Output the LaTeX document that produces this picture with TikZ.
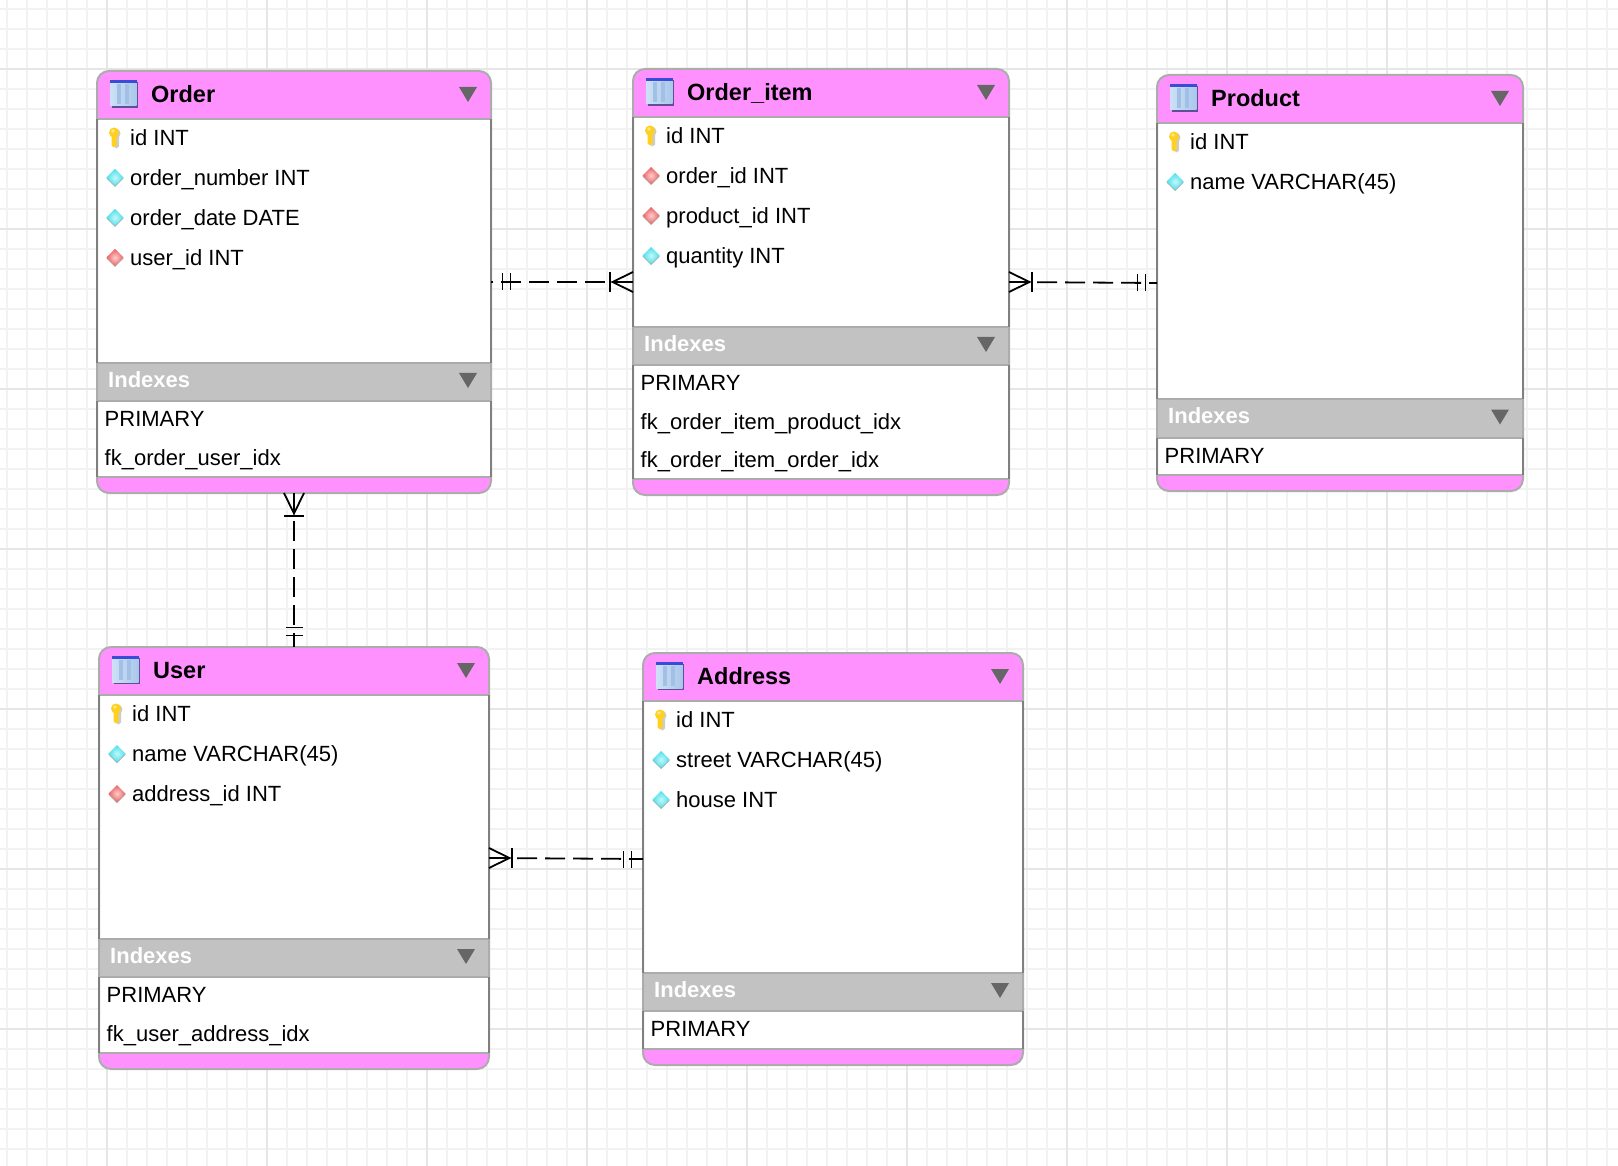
\documentclass[tikz,border=0pt]{standalone}
\usepackage{xcolor}
\usepackage{fontspec}
\setmainfont{Liberation Sans}
\usetikzlibrary{positioning, calc}
\definecolor{gridminor}{RGB}{242, 242, 242}
\definecolor{gridmajor}{RGB}{230, 230, 230}
\definecolor{headpink}{RGB}{255, 145, 255}
\definecolor{indexgray}{RGB}{194, 194, 194}
\definecolor{edgegray}{RGB}{172, 172, 172}
\definecolor{sidegray}{RGB}{128, 128, 128}
\definecolor{trianglegray}{RGB}{102, 102, 102}
\definecolor{attrcyan}{RGB}{70, 225, 235}
\definecolor{fkred}{RGB}{238, 95, 95}
\definecolor{keygold}{RGB}{255, 208, 30}
\definecolor{iconblue}{RGB}{58, 75, 216}
\definecolor{iconshadow}{RGB}{96, 78, 150}
\definecolor{iconlight}{RGB}{205, 224, 245}
\definecolor{iconbody}{RGB}{170, 200, 235}
\definecolor{iconstripe}{RGB}{162, 192, 230}
\tikzset{
    tablehead/.style={fill=headpink},
    tablerule/.style={draw=edgegray, line width=2pt},
    tableside/.style={draw=sidegray, line width=2pt},
    tableedge/.style={draw=edgegray, line width=2pt, rounded corners=12pt, inner sep=0pt, outer sep=0pt},
    titletext/.style={anchor=base west, inner sep=0pt, font=\fontsize{23.5}{28}\selectfont\bfseries},
    fieldtext/.style={anchor=base west, inner sep=0pt, font=\fontsize{22}{26}\selectfont},
    indextext/.style={anchor=base west, inner sep=0pt, text=white, font=\fontsize{22}{26}\selectfont\bfseries},
    relline/.style={line width=1.8pt, black, dash pattern=on 20pt off 8pt},
    markline/.style={line width=1.8pt, black, solid},
    manymark/.pic={
        \draw[markline] (0,-10) -- (20.5,0) -- (0,10);
        \draw[markline] (23,-10) -- (23,10);
    },
    onemark/.pic={
        \draw[markline] (11.5,-8.5) -- (11.5,8.5);
        \draw[markline] (19.5,-8.5) -- (19.5,8.5);
    }
}
% Row icons, drawn around the current origin
\newcommand{\iconkey}{
    \fill[black!20] (0.5,-4) circle (5);
    \fill[black!20] (-1,-4) -- (4,-4) -- (4,9) -- (1.5,11) -- (-1,9) -- cycle;
    \fill[keygold] (-1,-5) circle (5);
    \fill[keygold] (-3.5,-5) -- (1.5,-5) -- (1.5,8) -- (-1,10) -- (-3.5,8) -- cycle;
    \fill[white, opacity=0.5] (-2,-6.5) circle (1.8);
}
\newcommand{\icondiamond}[1]{
    \fill[black!35] (0,-7.5) -- (8.5,1) -- (0,9.5) -- (-8.5,1) -- cycle;
    \shade[inner color=#1!30, outer color=#1] (0,-8.5) -- (8.5,0) -- (0,8.5) -- (-8.5,0) -- cycle;
}
\newcommand{\iconattr}{\icondiamond{attrcyan}}
\newcommand{\iconfk}{\icondiamond{fkred}}
% name, left, top, width, height, index band, title, fields, indexes
\newcommand{\ertable}[9]{
    \begin{scope}[shift={(#2,#3)}]
        % Body, head and foot
        \fill[white] (0,40) rectangle (#4,#5-10);
        \fill[tablehead] (0,48) [rounded corners=12pt] -- (0,0) -- (#4,0) [sharp corners] -- (#4,48) -- cycle;
        \fill[indexgray] (0,#6) rectangle (#4,#6+38);
        \fill[tablehead] (0,#5-16) [rounded corners=12pt] -- (0,#5) -- (#4,#5) [sharp corners] -- (#4,#5-16) -- cycle;
        \draw[tablerule] (0,48) -- (#4,48);
        \draw[tablerule] (0,#6) -- (#4,#6);
        \draw[tablerule] (0,#6+38) -- (#4,#6+38);
        \draw[tablerule] (0,#5-16) -- (#4,#5-16);
        \node[tableedge, draw, minimum width=#4pt, minimum height=#5pt] (#1) at (#4/2,#5/2) {};
        \draw[tableside] (0,48) -- (0,#6);
        \draw[tableside] (#4,48) -- (#4,#6);
        \draw[tableside] (0,#6+38) -- (0,#5-16);
        \draw[tableside] (#4,#6+38) -- (#4,#5-16);

        % Table icon
        \fill[iconshadow] (14.5,11) rectangle (41,37);
        \shade[left color=iconlight, right color=iconbody] (13,11) rectangle (39.5,35);
        \fill[iconstripe] (20,13) rectangle (24,33);
        \fill[iconstripe] (28,13) rectangle (32,33);
        \fill[iconblue] (13,9) rectangle (39.5,12);
        \node[titletext] (#1-title) at (54,31.5) {#7};

        % Collapse triangles
        \fill[trianglegray] (#4-32,16) -- (#4-14,16) -- (#4-23,31) -- cycle;
        \fill[trianglegray] (#4-32,#6+10) -- (#4-14,#6+10) -- (#4-23,#6+25) -- cycle;

        % Fields
        \foreach \kind/\field [count=\n] in {#8} {
            \begin{scope}[shift={(18,{26.5+40*\n})}]
                \csname icon\kind\endcsname
            \end{scope}
            \node[fieldtext] (#1-field\n) at (33,{34.7+40*\n}) {\field};
        }

        % Indexes
        \node[indextext] (#1-indexes) at (11,#6+24.5) {Indexes};
        \foreach \index [count=\n] in {#9} {
            \node[fieldtext] (#1-index\n) at (7.5,{#6+25.2+38.5*\n}) {\index};
        }
    \end{scope}
}

\begin{document}
\begin{tikzpicture}[x=1pt, y=-1pt]
    \useasboundingbox (0,0) rectangle (1618,1166);
    \fill[white] (0,0) rectangle (1618,1166);

    % Grid
    \foreach \gx in {7,27,...,1607} {
        \draw[gridminor, line width=2pt] (\gx,0) -- (\gx,1166);
    }
    \foreach \gy in {9,29,...,1149} {
        \draw[gridminor, line width=2pt] (0,\gy) -- (1618,\gy);
    }
    \foreach \gx in {107,267,...,1547} {
        \draw[gridmajor, line width=2pt] (\gx,0) -- (\gx,1166);
    }
    \foreach \gy in {69,229,...,1029} {
        \draw[gridmajor, line width=2pt] (0,\gy) -- (1618,\gy);
    }

    % Tables
    \ertable{order}{97}{71}{394}{422}{292}{Order}
        {key/id INT, attr/order\_number INT, attr/order\_date DATE, fk/user\_id INT}
        {PRIMARY, fk\_order\_user\_idx}
    \ertable{item}{633}{69}{376}{426}{258}{Order\_item}
        {key/id INT, fk/order\_id INT, fk/product\_id INT, attr/quantity INT}
        {PRIMARY, fk\_order\_item\_product\_idx, fk\_order\_item\_order\_idx}
    \ertable{product}{1157}{75}{366}{416}{324.5}{Product}
        {key/id INT, attr/name VARCHAR(45)}
        {PRIMARY}
    \ertable{user}{99}{647}{390}{422}{292}{User}
        {key/id INT, attr/name VARCHAR(45), fk/address\_id INT}
        {PRIMARY, fk\_user\_address\_idx}
    \ertable{address}{643}{653}{380}{412}{320}{Address}
        {key/id INT, attr/street VARCHAR(45), attr/house INT}
        {PRIMARY}

    % Relations
    \draw[relline] (item.west) -- (order.east);
    \pic[rotate=180] at (item.west) {manymark};
    \pic at (order.east) {onemark};

    \draw[relline] (item.east) -- (product.west);
    \pic at (item.east) {manymark};
    \pic[rotate=180] at (product.west) {onemark};

    \draw[relline] (order.south) -- (user.north);
    \pic[rotate=-90] at (order.south) {manymark};
    \pic[rotate=90] at (user.north) {onemark};

    \draw[relline] (user.east) -- (address.west);
    \pic at (user.east) {manymark};
    \pic[rotate=180] at (address.west) {onemark};
\end{tikzpicture}
\end{document}
